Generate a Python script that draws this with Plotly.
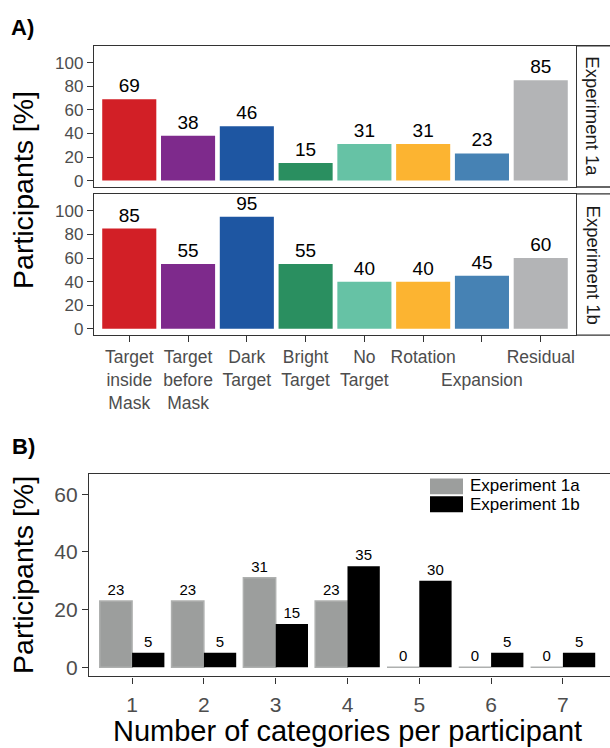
import plotly.graph_objects as go

W, H = 610, 748

# ---------------- data ----------------
categories = ["Target<br>inside<br>Mask", "Target<br>before<br>Mask", "Dark<br>Target",
              "Bright<br>Target", "No<br>Target", "Rotation", "<br>Expansion", "Residual"]
cat_colors = ["#D21F26", "#7E2A8C", "#1E56A2", "#2A8F60", "#66C2A5", "#FCB431", "#4682B4", "#B3B4B6"]
exp1a_pct = [69, 38, 46, 15, 31, 31, 23, 85]
exp1b_pct = [85, 55, 95, 55, 40, 40, 45, 60]

n_categories = [1, 2, 3, 4, 5, 6, 7]
count_1a = [23, 23, 31, 23, 0, 0, 0]
count_1b = [5, 5, 15, 35, 30, 5, 5]

FONT = "Liberation Sans, Arial, sans-serif"
FRAME = "#333333"
TICKC = "#4D4D4D"


def px_x(p):
    return p / W


def px_y(p):
    return 1 - p / H


fig = go.Figure()

# Panel A, Experiment 1a
fig.add_trace(go.Bar(x=categories, y=exp1a_pct, marker=dict(color=cat_colors, line=dict(width=0)),
                     width=0.92, text=exp1a_pct, textposition="outside", cliponaxis=False,
                     textfont=dict(size=19, color="black", family=FONT),
                     xaxis="x", yaxis="y", showlegend=False, hoverinfo="x+y"))
# Panel A, Experiment 1b
fig.add_trace(go.Bar(x=categories, y=exp1b_pct, marker=dict(color=cat_colors, line=dict(width=0)),
                     width=0.92, text=exp1b_pct, textposition="outside", cliponaxis=False,
                     textfont=dict(size=19, color="black", family=FONT),
                     xaxis="x2", yaxis="y2", showlegend=False, hoverinfo="x+y"))
# Panel B
fig.add_trace(go.Bar(x=n_categories, y=count_1a, name="Experiment 1a",
                     marker=dict(color="#9C9E9D", line=dict(color="#AEB0AF", width=1.5)),
                     text=count_1a, textposition="outside", cliponaxis=False,
                     textfont=dict(size=15, color="black", family=FONT),
                     xaxis="x3", yaxis="y3", showlegend=False))
fig.add_trace(go.Bar(x=n_categories, y=count_1b, name="Experiment 1b",
                     marker=dict(color="#000000", line=dict(width=0)),
                     text=count_1b, textposition="outside", cliponaxis=False,
                     textfont=dict(size=15, color="black", family=FONT),
                     xaxis="x3", yaxis="y3", showlegend=False))

axis_common = dict(showline=True, linecolor=FRAME, linewidth=1.3, ticks="outside",
                   tickcolor=FRAME, tickwidth=1.2, ticklen=6, showgrid=False, zeroline=False,
                   fixedrange=True, tickangle=0)

xA = [px_x(94), px_x(576)]
fig.update_layout(
    width=W, height=H, margin=dict(l=0, r=0, t=0, b=0),
    paper_bgcolor="white", plot_bgcolor="white",
    barmode="group", bargap=0.1, bargroupgap=0,
    font=dict(family=FONT, color="black"),
    xaxis=dict(domain=xA, anchor="y", mirror=True, showticklabels=False, ticks="",
               type="category", range=[-0.6, 7.6], **{k: v for k, v in axis_common.items() if k != "ticks"}),
    yaxis=dict(domain=[px_y(188), px_y(46)], anchor="x", mirror=True, range=[-5.4, 114.3],
               tickvals=[0, 20, 40, 60, 80, 100], tickfont=dict(size=17, color=TICKC), **axis_common),
    xaxis2=dict(domain=xA, anchor="y2", mirror=True, type="category", range=[-0.6, 7.6],
                tickfont=dict(size=17.5, color=TICKC), **axis_common),
    yaxis2=dict(domain=[px_y(337), px_y(195)], anchor="x2", mirror=True, range=[-5.4, 114.3],
                tickvals=[0, 20, 40, 60, 80, 100], tickfont=dict(size=17, color=TICKC), **axis_common),
    xaxis3=dict(domain=[px_x(89), 1], anchor="y3", mirror=True, range=[0.4, 7.656],
                tickvals=n_categories, tickfont=dict(size=21, color=TICKC),
                ticklabelstandoff=3, **axis_common),
    yaxis3=dict(domain=[px_y(680), px_y(477)], anchor="x3", range=[-3.2, 66.9],
                tickvals=[0, 20, 40, 60], tickfont=dict(size=21, color=TICKC), **axis_common),
)

shapes = []
# strip boxes (right side) for facets
for top, bot in [(46, 188), (195, 337)]:
    for yy in (top, bot):
        shapes.append(dict(type="line", xref="paper", yref="paper", x0=px_x(576), x1=1.0,
                           y0=px_y(yy), y1=px_y(yy), line=dict(color=FRAME, width=1.3)))
# manual legend keys
shapes.append(dict(type="rect", xref="paper", yref="paper", x0=px_x(430), x1=px_x(463),
                   y0=px_y(497), y1=px_y(481), fillcolor="#9C9E9D", line=dict(width=0)))
shapes.append(dict(type="rect", xref="paper", yref="paper", x0=px_x(430), x1=px_x(463),
                   y0=px_y(515), y1=px_y(499), fillcolor="#000000", line=dict(width=0)))

annotations = [
    dict(text="<b>A)</b>", x=px_x(9), y=px_y(28), xanchor="left", yanchor="middle",
         font=dict(size=22, color="black")),
    dict(text="<b>B)</b>", x=px_x(10), y=px_y(449), xanchor="left", yanchor="middle",
         font=dict(size=22, color="black")),
    dict(text="Participants [%]", x=px_x(23), y=px_y(191), textangle=-90,
         xanchor="center", yanchor="middle", font=dict(size=28.5, color="black")),
    dict(text="Participants [%]", x=px_x(23), y=px_y(578), textangle=-90,
         xanchor="center", yanchor="middle", font=dict(size=28.5, color="black")),
    dict(text="Number of categories per participant", x=px_x(347), y=px_y(735),
         xanchor="center", yanchor="middle", font=dict(size=29, color="black")),
    dict(text="Experiment 1a", x=px_x(593), y=px_y(117), textangle=90,
         xanchor="center", yanchor="middle", font=dict(size=18.5, color="#1A1A1A")),
    dict(text="Experiment 1b", x=px_x(593), y=px_y(266), textangle=90,
         xanchor="center", yanchor="middle", font=dict(size=18.5, color="#1A1A1A")),
    dict(text="Experiment 1a", x=px_x(468), y=px_y(488.5), xanchor="left", yanchor="middle",
         font=dict(size=17, color="black")),
    dict(text="Experiment 1b", x=px_x(468), y=px_y(507), xanchor="left", yanchor="middle",
         font=dict(size=17, color="black")),
]
for a in annotations:
    a.update(xref="paper", yref="paper", showarrow=False)

fig.update_layout(shapes=shapes, annotations=annotations)

fig.write_html("out.html")
